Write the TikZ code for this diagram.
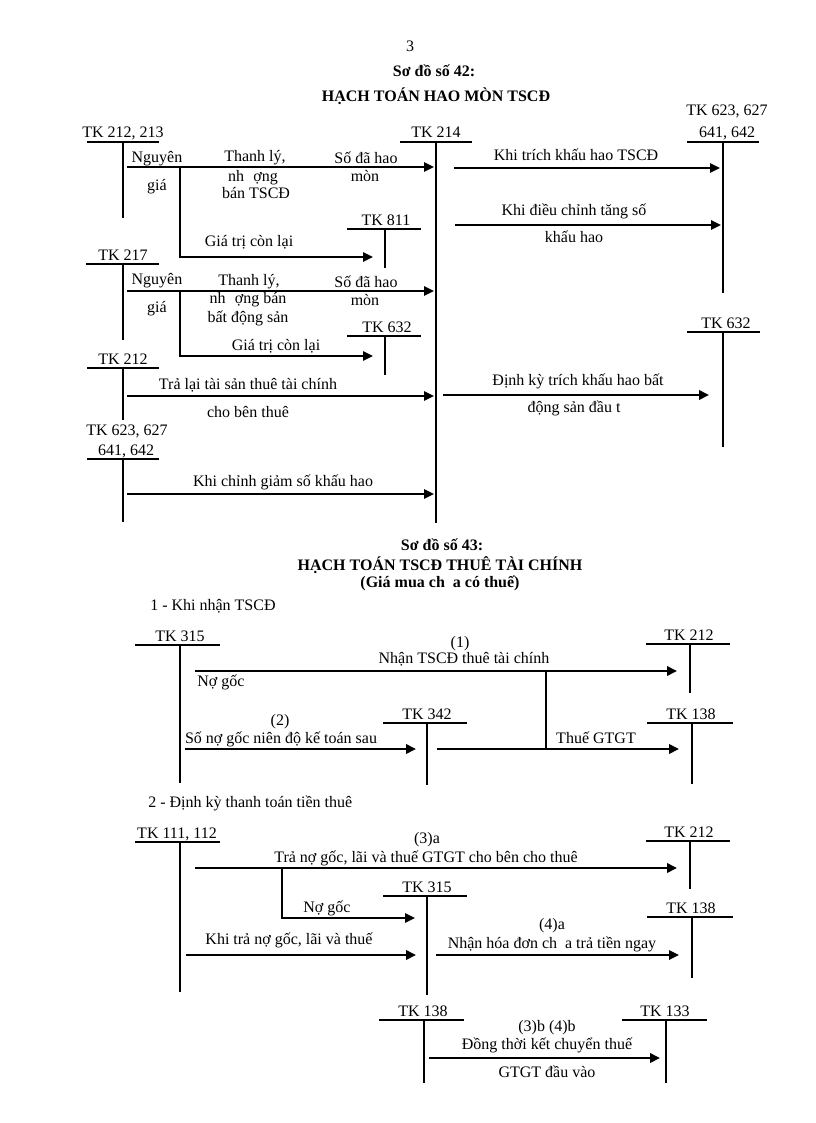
\documentclass[tikz,border=0pt]{standalone}
\usepackage{fontspec}
\setmainfont{Liberation Serif}
\usetikzlibrary{arrows.meta}
\newcommand\TAcc[8]{%
  % #1 name, #2 vertical x, #3 bar y, #4 bar left, #5 bar right, #6 bottom y, #7 label x, #8 label
  \coordinate (#1-l) at (#4,#3);
  \coordinate (#1-r) at (#5,#3);
  \coordinate (#1-t) at (#2,#3);
  \coordinate (#1-b) at (#2,#6);
  \draw[tline] (#1-l) -- (#1-r);
  \draw[tline] (#1-t) -- (#1-b);
  \node[txt] (#1-lab) at (#7,#3-4) {#8};
}
\begin{document}
\begin{tikzpicture}[x=0.75pt,y=-0.75pt,
  txt/.style={inner sep=0pt,anchor=base,font=\fontsize{12}{14}\selectfont},
  ttl/.style={inner sep=0pt,anchor=base,font=\fontsize{12}{14}\selectfont\bfseries},
  tline/.style={line width=1.2pt},
  arr/.style={line width=1.6pt,-{Triangle[length=7.5pt,width=7pt]}},
  arrb/.style={line width=2pt,-{Triangle[length=7.5pt,width=7pt]}},
  brarr/.style={line width=1.3pt,-{Triangle[length=7.5pt,width=7pt]}},
  brl/.style={line width=1.3pt}]
\useasboundingbox (0,0) rectangle (816,1123);
\fill[white] (0,0) rectangle (816,1123);

% ---------- header ----------
\node[txt] (pg) at (410,52) {3};
\node[ttl] (t42) at (434,77) {Sơ đồ số 42:};
\node[ttl] (t42b) at (436,102) {HẠCH TOÁN HAO MÒN TSCĐ};

% ---------- diagram 42 : accounts ----------
\TAcc{a212}{123}{142}{87}{159}{218}{123}{TK 212, 213}
\TAcc{a214}{436}{142}{400}{472}{523}{436}{TK 214}
\draw[line width=1.6pt] (a214-t) -- (a214-b);
\TAcc{a623}{723}{142}{687}{759}{293}{727}{641, 642}
\node[txt] (a623-lab2) at (727,116) {TK 623, 627};
\TAcc{a811}{385}{229}{347}{421}{268}{386}{TK 811}
\TAcc{a217}{123}{264}{86}{159}{340}{123}{TK 217}
\TAcc{a632m}{385}{336}{347}{421}{375}{387}{TK 632}
\TAcc{a212b}{123}{368}{87}{159}{420}{123}{TK 212}
\TAcc{a623b}{123}{459}{87}{159}{522}{126}{641, 642}
\node[txt] (a623b-lab2) at (127,435) {TK 623, 627};
\TAcc{a632r}{723}{332}{687}{760}{447}{726}{TK 632}

% arrows row 1
\coordinate (r1s) at (127,167); \coordinate (r1e) at (434,167);
\draw[arr] (r1s) -- (r1e);
\coordinate (r1b) at (180,167); \coordinate (r1be) at (373,257);
\draw[brarr] (r1b) |- (r1be);
\node[txt] (n1a) at (157,163) {Nguyên};
\node[txt] (n1b) at (157,191) {giá};
\node[txt] (n1c) at (255,162) {Thanh lý,};
\node[txt] (n1d) at (253,182) {nh\hspace{7pt}ợng};
\node[txt] (n1e) at (256,199) {bán TSCĐ};
\node[txt] (n1f) at (366,164) {Số đã hao};
\node[txt] (n1g) at (365,182) {mòn};
\node[txt] (n1h) at (249,246) {Giá trị còn lại};

\coordinate (k1s) at (454,168); \coordinate (k1e) at (720,168);
\draw[arr] (k1s) -- (k1e);
\node[txt] (k1t) at (576,161) {Khi trích khấu hao TSCĐ};
\coordinate (k2s) at (455,225); \coordinate (k2e) at (721,225);
\draw[arr] (k2s) -- (k2e);
\node[txt] (k2t) at (574,215) {Khi điều chỉnh tăng số};
\node[txt] (k2u) at (574,243) {khấu hao};

% arrows row 2 (TK 217)
\coordinate (r2s) at (127,291); \coordinate (r2e) at (434,291);
\draw[arr] (r2s) -- (r2e);
\coordinate (r2b) at (180,291); \coordinate (r2be) at (373,356);
\draw[brarr] (r2b) |- (r2be);
\node[txt] (n2a) at (157,284) {Nguyên};
\node[txt] (n2b) at (157,312) {giá};
\node[txt] (n2c) at (249,285) {Thanh lý,};
\node[txt] (n2d) at (248,303) {nh\hspace{7pt}ợng bán};
\node[txt] (n2e) at (248,322) {bất động sản};
\node[txt] (n2f) at (366,287) {Số đã hao};
\node[txt] (n2g) at (365,305) {mòn};
\node[txt] (n2h) at (276,350) {Giá trị còn lại};

% row 3 (TK 212)
\coordinate (r3s) at (127,396); \coordinate (r3e) at (434,396);
\draw[arr] (r3s) -- (r3e);
\node[txt] (n3a) at (248,389) {Trả lại tài sản thuê tài chính};
\node[txt] (n3b) at (248,417) {cho bên thuê};

% row 4
\coordinate (r4s) at (127,494); \coordinate (r4e) at (434,494);
\draw[arr] (r4s) -- (r4e);
\node[txt] (n4a) at (283,486) {Khi chỉnh giảm số khấu hao};

% right TK 632
\coordinate (k3s) at (443,395); \coordinate (k3e) at (709,395);
\draw[arrb] (k3s) -- (k3e);
\node[txt] (k3t) at (578,385) {Định kỳ trích khấu hao bất};
\node[txt] (k3u) at (574,412) {động sản đầu t};

% ---------- diagram 43 ----------
\node[ttl] (t43) at (442,550) {Sơ đồ số 43:};
\node[ttl] (t43b) at (440,570) {HẠCH TOÁN TSCĐ THUÊ TÀI CHÍNH};
\node[ttl] (t43c) at (440,587) {(Giá mua ch\hspace{6pt}a có thuế)};
\node[txt,anchor=base west] (s1) at (150,610) {1 - Khi nhận TSCĐ};

\TAcc{b315}{180}{645}{135}{220}{783}{180}{TK 315}
\TAcc{b212}{690}{644}{646}{730}{693}{689}{TK 212}
\TAcc{b342}{427}{723}{383}{467}{785}{427}{TK 342}
\TAcc{b138}{692}{723}{647}{733}{784}{691}{TK 138}

\coordinate (p1s) at (195,671); \coordinate (p1e) at (677,671);
\draw[arrb] (p1s) -- (p1e);
\node[txt] (p1n) at (460,647) {(1)};
\node[txt] (p1t) at (464,663) {Nhận TSCĐ thuê tài chính};
\node[txt,anchor=base west] (p1g) at (197,686) {Nợ gốc};
\coordinate (p1b) at (546,671); \coordinate (p1be) at (546,749);
\draw[brl] (p1b) -- (p1be);

\coordinate (p2s) at (185,749); \coordinate (p2e) at (416,749);
\draw[arrb] (p2s) -- (p2e);
\node[txt] (p2n) at (280,725) {(2)};
\node[txt] (p2t) at (281,743) {Số nợ gốc niên độ kế toán sau};
\coordinate (p3s) at (437,749); \coordinate (p3e) at (679,749);
\draw[arrb] (p3s) -- (p3e);
\node[txt] (p3t) at (596,743) {Thuế GTGT};

\node[txt,anchor=base west] (s2) at (148,807) {2 - Định kỳ thanh toán tiền thuê};

\TAcc{c111}{180}{842}{135}{220}{992}{177}{TK 111, 112}
\TAcc{c212}{690}{841}{646}{730}{889}{689}{TK 212}
\TAcc{c315}{427}{896}{383}{467}{995}{427}{TK 315}
\TAcc{c138}{692}{917}{647}{733}{978}{691}{TK 138}
\TAcc{c138b}{424}{1020}{379}{464}{1083}{423}{TK 138}
\TAcc{c133}{666}{1020}{622}{707}{1083}{665}{TK 133}

\coordinate (q1s) at (195,868); \coordinate (q1e) at (677,868);
\draw[arrb] (q1s) -- (q1e);
\node[txt] (q1n) at (427,843) {(3)a};
\node[txt] (q1t) at (426,862) {Trả nợ gốc, lãi và thuế GTGT cho bên cho thuê};
\coordinate (q1b) at (282,868); \coordinate (q1be) at (415,918);
\draw[brarr] (q1b) |- (q1be);
\node[txt] (q1g) at (327,912) {Nợ gốc};

\coordinate (q2s) at (186,955); \coordinate (q2e) at (416,955);
\draw[arrb] (q2s) -- (q2e);
\node[txt] (q2t) at (289,944) {Khi trả nợ gốc, lãi và thuế};

\coordinate (q3s) at (436,955); \coordinate (q3e) at (679,955);
\draw[arr] (q3s) -- (q3e);
\node[txt] (q3n) at (552,929) {(4)a};
\node[txt] (q3t) at (552,948) {Nhận hóa đơn ch\hspace{6pt}a trả tiền ngay};

\coordinate (q4s) at (429,1058); \coordinate (q4e) at (660,1058);
\draw[arrb] (q4s) -- (q4e);
\node[txt] (q4n) at (547,1031) {(3)b (4)b};
\node[txt] (q4t) at (547,1049) {Đồng thời kết chuyển thuế};
\node[txt] (q4u) at (547,1077) {GTGT đầu vào};
\end{tikzpicture}
\end{document}
